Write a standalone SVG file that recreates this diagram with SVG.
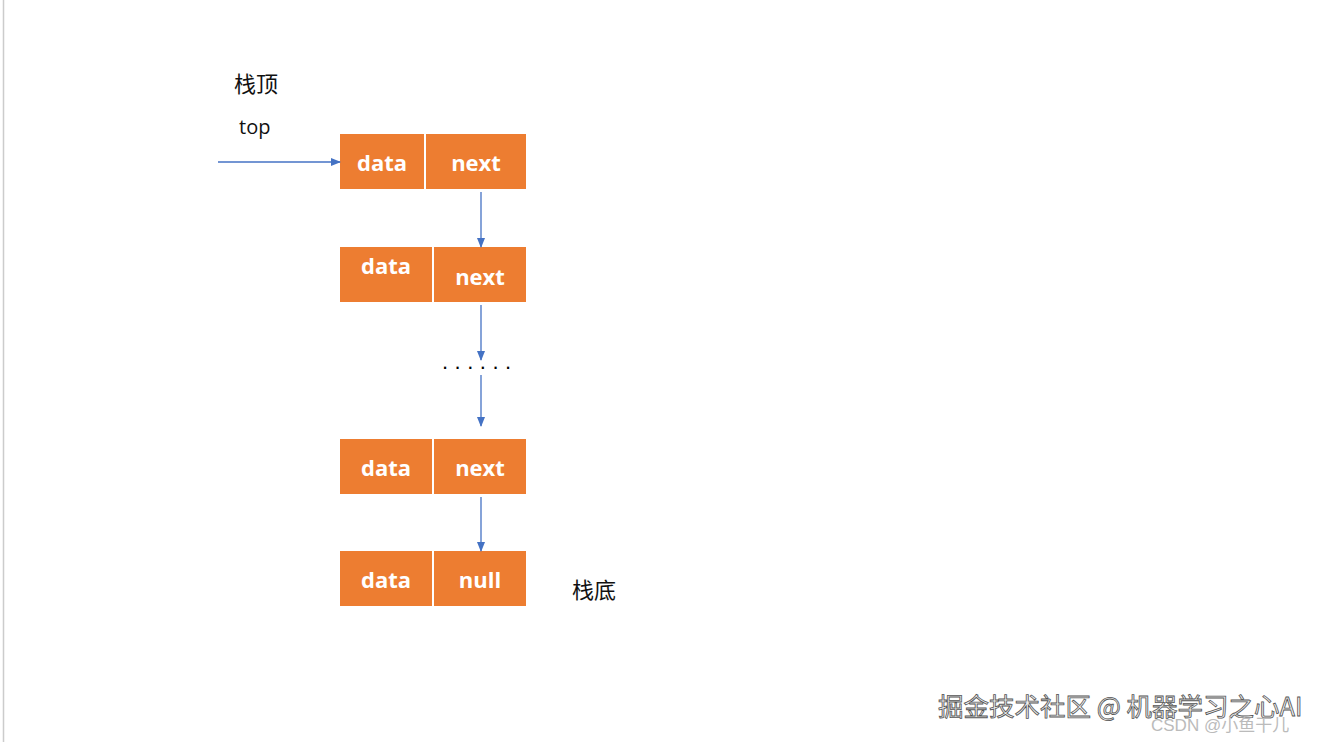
<svg xmlns="http://www.w3.org/2000/svg" width="1320" height="742" viewBox="0 0 1320 742">
<style>
.b{fill:#ED7D31}
.t{font-family:"Open Sans","Liberation Sans",sans-serif;font-weight:bold;font-size:22px;fill:#fff;text-anchor:middle}
.l{font-family:"Noto Sans CJK SC","Liberation Sans",sans-serif;font-size:22px;fill:#111}
.c{stroke:#4472C4;stroke-width:1.3;fill:none;marker-end:url(#a)}
.w{stroke:#fff;stroke-width:2}
</style>
<defs><marker id="a" markerWidth="10" markerHeight="8" refX="9" refY="4" orient="auto" markerUnits="userSpaceOnUse"><path d="M0,0L10,4L0,8Z" fill="#4472C4"/></marker></defs>
<rect width="1320" height="742" fill="#fff"/>
<line x1="3.5" y1="0" x2="3.5" y2="742" stroke="#ccc" stroke-width="1.5"/>
<text class="l" x="234" y="92">栈顶</text>
<text class="l" x="239" y="134" style="font-family:'Open Sans','Liberation Sans',sans-serif;font-size:20px">top</text>
<text class="l" x="572" y="598">栈底</text>
<g id="n1"><rect class="b" x="340" y="134" width="186" height="55"/><line class="w" x1="425" y1="134" x2="425" y2="189"/><text class="t" x="382" y="171">data</text><text class="t" x="476" y="171">next</text></g>
<g id="n2"><rect class="b" x="340" y="247" width="186" height="55"/><line class="w" x1="433" y1="247" x2="433" y2="302"/><text class="t" x="386" y="274">data</text><text class="t" x="480" y="285">next</text></g>
<g id="n3"><rect class="b" x="340" y="439" width="186" height="55"/><line class="w" x1="433" y1="439" x2="433" y2="494"/><text class="t" x="386" y="476">data</text><text class="t" x="480" y="476">next</text></g>
<g id="n4"><rect class="b" x="340" y="551" width="186" height="55"/><line class="w" x1="433" y1="551" x2="433" y2="606"/><text class="t" x="386" y="588">data</text><text class="t" x="480" y="588">null</text></g>
<text x="442" y="369" style="font-family:'Liberation Sans',sans-serif;font-size:22px;fill:#000;letter-spacing:6.5px">......</text>
<g id="connectors">
<line class="c" x1="218" y1="162" x2="340" y2="162"/>
<line class="c" x1="481" y1="192" x2="481" y2="247"/>
<line class="c" x1="481" y1="305" x2="481" y2="360"/>
<line class="c" x1="481" y1="375" x2="481" y2="426"/>
<line class="c" x1="481" y1="497" x2="481" y2="551"/>
</g>
<text x="938" y="716" style="font-family:'Noto Sans CJK SC',sans-serif;font-size:25.5px;fill:#eee;stroke:#555;stroke-width:0.8">掘金技术社区 @ 机器学习之心AI</text>
<text x="1151" y="731" style="font-family:'Liberation Sans','Noto Sans CJK SC',sans-serif;font-size:17px;fill:#bbb">CSDN @小鱼干儿</text>
</svg>
